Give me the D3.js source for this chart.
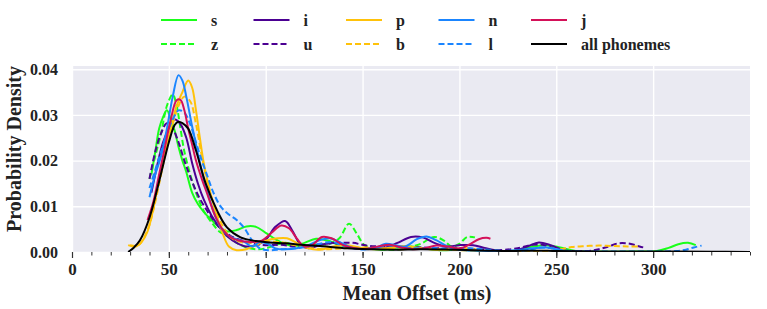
<!DOCTYPE html>
<html>
<head>
<meta charset="utf-8">
<script src="https://cdn.jsdelivr.net/npm/d3@7/dist/d3.min.js"></script>
<style>
  body { margin: 0; background: #fff; }
  text { font-family: "Liberation Serif", "Times New Roman", serif; font-weight: bold; fill: #222; }
</style>
</head>
<body>
<script>
// Size of the page
var width = 767;
var height = 309;

// Tick values
var xTicks = [0, 50, 100, 150, 200, 250, 300];
var yTicks = [0, 0.01, 0.02, 0.03, 0.04];

// Density curves, [mean offset ms, density]
var sData = [[41,0.017],[43,0.022],[45,0.027],[47,0.0295],[49,0.031],[51,0.029],[53,0.0265],[55,0.023],[57,0.02],[59,0.0175],[62,0.013],[65,0.0105],[68,0.0088],[72,0.007],[76,0.0055],[80,0.0045],[85,0.0048],[90,0.0056],[95,0.0055],[100,0.0042],[105,0.0028],[110,0.0017],[115,0.0014],[120,0.002],[126,0.0029],[132,0.0025],[138,0.0015],[145,0.001],[152,0.0008],[160,0.0005],[168,0.001],[175,0.0012],[182,0.0008],[190,0.0004],[200,0.0005],[210,0.0003],[220,0.0001],[230,0.0004],[238,0.0012],[245,0.0015],[252,0.001],[260,0.0002],[270,0.0001],[290,0.0001],[302,0.0002],[308,0.0009],[313,0.0017],[318,0.002],[322,0.0015]];
var zData = [[40,0.016],[43,0.021],[46,0.026],[49,0.032],[52,0.0345],[54,0.032],[56,0.027],[58,0.022],[61,0.017],[64,0.013],[68,0.009],[72,0.0065],[76,0.0045],[80,0.0035],[85,0.002],[90,0.001],[95,0.0006],[100,0.0008],[105,0.0015],[110,0.002],[115,0.0015],[120,0.0012],[127,0.0016],[133,0.0018],[138,0.003],[143,0.0062],[147,0.004],[151,0.0015],[156,0.0008],[165,0.0005],[172,0.0008],[180,0.0018],[187,0.0033],[192,0.0025],[196,0.0012],[200,0.0018],[204,0.0033],[208,0.0032]];
var iData = [[41,0.013],[44,0.019],[47,0.024],[50,0.027],[53,0.029],[56,0.028],[59,0.025],[62,0.0195],[65,0.015],[68,0.0115],[72,0.008],[76,0.0055],[80,0.0035],[85,0.002],[90,0.0012],[95,0.0015],[100,0.0027],[105,0.0055],[110,0.0068],[114,0.0045],[118,0.0015],[122,0.0008],[128,0.0015],[134,0.002],[140,0.0015],[148,0.0008],[155,0.0007],[162,0.001],[168,0.002],[175,0.0033],[181,0.0032],[187,0.002],[193,0.0012],[200,0.0015],[207,0.0015],[213,0.0009],[220,0.0003],[228,0.0002],[235,0.0012],[241,0.0021],[247,0.0015],[254,0.0004],[262,0.0001],[270,0.0001]];
var uData = [[40,0.016],[43,0.022],[46,0.026],[49,0.0282],[52,0.027],[55,0.024],[58,0.02],[61,0.0165],[65,0.0125],[69,0.0095],[73,0.007],[77,0.005],[82,0.0035],[88,0.0025],[94,0.0018],[100,0.0015],[108,0.0016],[115,0.0012],[122,0.0014],[130,0.0018],[138,0.002],[145,0.002],[152,0.0014],[160,0.0012],[170,0.0012],[180,0.001],[190,0.0008],[200,0.0008],[210,0.0006],[220,0.0004],[230,0.0008],[238,0.0016],[244,0.0015],[250,0.0006],[258,0.0002],[266,0.0002],[272,0.0006],[277,0.0012],[282,0.0019],[288,0.0018],[293,0.0012],[296,0.0009]];
var pData = [[29,0.0015],[33,0.0012],[36,0.0022],[39,0.0045],[42,0.0095],[45,0.016],[48,0.022],[51,0.027],[54,0.032],[57,0.035],[60,0.0375],[62,0.036],[64,0.031],[66,0.025],[68,0.0195],[70,0.0155],[72,0.012],[75,0.0075],[78,0.0038],[81,0.0012],[85,0.0004],[90,0.0006],[95,0.0015],[100,0.0025],[106,0.003],[111,0.003],[116,0.002],[122,0.0008],[128,0.0005],[135,0.0012],[142,0.0015],[150,0.0008],[158,0.0006],[165,0.001],[172,0.0013],[180,0.0008],[188,0.0005],[195,0.0006],[203,0.0008],[210,0.0004]];
var bData = [[30,0.0015],[34,0.0014],[37,0.003],[40,0.006],[43,0.011],[46,0.017],[49,0.023],[52,0.028],[55,0.032],[58,0.034],[61,0.033],[64,0.028],[67,0.021],[70,0.015],[74,0.0095],[78,0.0055],[82,0.0032],[87,0.0022],[93,0.002],[100,0.0022],[107,0.0022],[114,0.0016],[121,0.001],[130,0.0006],[140,0.0008],[150,0.001],[160,0.0008],[170,0.0006],[180,0.0008],[190,0.0006],[200,0.0004],[210,0.0002],[220,0.0001],[235,0.0001],[245,0.0002],[252,0.0006],[258,0.0011],[265,0.0013],[272,0.0014],[280,0.0013],[287,0.0012],[293,0.0012]];
var nData = [[40,0.012],[43,0.017],[46,0.021],[49,0.027],[52,0.034],[55,0.0387],[57,0.0375],[59,0.034],[62,0.0275],[65,0.0215],[68,0.016],[71,0.0115],[74,0.0078],[77,0.0052],[81,0.0035],[85,0.0028],[89,0.0022],[93,0.0012],[97,0.0022],[101,0.0018],[105,0.0008],[110,0.0006],[116,0.0008],[122,0.0015],[128,0.0026],[133,0.003],[138,0.0022],[144,0.001],[150,0.0006],[156,0.0008],[162,0.0018],[167,0.0015],[172,0.0012],[178,0.0028],[183,0.0034],[188,0.0026],[194,0.0012],[200,0.0005],[210,0.0003],[220,0.0002],[230,0.0004],[238,0.0008],[245,0.001],[252,0.0004],[258,0.0001]];
var lData = [[40,0.014],[43,0.018],[46,0.022],[49,0.026],[52,0.029],[55,0.031],[58,0.0305],[61,0.028],[64,0.024],[67,0.02],[70,0.0165],[73,0.013],[77,0.0098],[81,0.0082],[85,0.007],[89,0.0052],[93,0.0025],[97,0.0008],[102,0.0004],[108,0.0006],[115,0.0008],[122,0.0012],[128,0.0018],[134,0.0022],[140,0.0014],[148,0.0006],[156,0.0008],[163,0.0015],[170,0.001],[178,0.0008],[186,0.0009],[195,0.0006],[205,0.0008],[215,0.0005],[225,0.0002],[235,0.0004],[242,0.001],[248,0.0008],[255,0.0003],[265,0.0001],[280,0.0001],[300,0.0001],[312,0.0002],[317,0.0005],[321,0.001],[325,0.0014]];
var jData = [[39,0.007],[42,0.011],[45,0.017],[48,0.023],[51,0.029],[54,0.0332],[56,0.0333],[58,0.031],[60,0.027],[62,0.0235],[64,0.02],[67,0.016],[70,0.0125],[74,0.0078],[78,0.0048],[82,0.0032],[86,0.0025],[92,0.0022],[98,0.0025],[103,0.0042],[108,0.0058],[112,0.0052],[116,0.003],[120,0.0012],[124,0.0015],[129,0.0033],[134,0.003],[140,0.0015],[146,0.0008],[152,0.0007],[158,0.0012],[164,0.0016],[170,0.001],[176,0.0006],[182,0.0008],[188,0.0014],[194,0.0012],[200,0.0008],[205,0.0016],[210,0.0028],[214,0.0031],[216,0.0029]];
var allData = [[29,0],[32,0.001],[35,0.0025],[40,0.0075],[45,0.0155],[50,0.024],[53,0.0278],[55,0.0285],[57,0.0282],[60,0.027],[64,0.0222],[69,0.015],[75,0.009],[80,0.0054],[87,0.0032],[95,0.0024],[102,0.0021],[110,0.0019],[118,0.0016],[128,0.0013],[142,0.0008],[155,0.0006],[167,0.0005],[180,0.0006],[198,0.0005],[215,0.0003],[225,0.0002],[240,0.0003],[250,0.0002],[270,0.0001],[300,0.0001],[330,0.00005],[350,0.00002]];

// Series names and colours, in legend order (column by column)
var names = ["s", "z", "i", "u", "p", "b", "n", "l", "j", "all phonemes"];
var colors = ["#1aff1a", "#1aff1a", "#4b0092", "#4b0092", "#ffc20a", "#ffc20a", "#1a85ff", "#1a85ff", "#d41159", "#000000"];
var dashed = [false, true, false, true, false, true, false, true, false, false];
var datas = [sData, zData, iData, uData, pData, bData, nData, lData, jData, allData];

var plot = {left: 72, right: 750, top: 66, bottom: 252};

var x = d3.scaleLinear()
    .domain([0, 350])
    .range([plot.left, plot.right]);

var y = d3.scaleLinear()
    .domain([0, 0.0407])
    .range([plot.bottom, plot.top]);

var svg = d3.select("body")
    .append("svg")
    .attr("width", width)
    .attr("height", height);

// Plot background
svg.append("rect")
    .attr("x", plot.left)
    .attr("y", plot.top)
    .attr("width", plot.right - plot.left)
    .attr("height", plot.bottom - plot.top)
    .attr("fill", "#eaeaf2");

svg.append("clipPath")
    .attr("id", "clip")
  .append("rect")
    .attr("x", plot.left)
    .attr("y", plot.top)
    .attr("width", plot.right - plot.left)
    .attr("height", plot.bottom - plot.top);

// Grid
svg.append("g")
    .attr("transform", "translate(0," + plot.bottom + ")")
    .call(d3.axisBottom(x).tickValues(xTicks).tickSize(-(plot.bottom - plot.top)).tickFormat(""))
    .call(function(g) {
        g.select(".domain").remove();
        g.selectAll("line").attr("stroke", "#fff").attr("stroke-width", 1.4);
    });

svg.append("g")
    .attr("transform", "translate(" + plot.left + ",0)")
    .call(d3.axisLeft(y).tickValues(yTicks).tickSize(-(plot.right - plot.left)).tickFormat(""))
    .call(function(g) {
        g.select(".domain").remove();
        g.selectAll("line").attr("stroke", "#fff").attr("stroke-width", 1.4);
    });

// Curves
var line = d3.line()
    .x(function(d) { return x(d[0]); })
    .y(function(d) { return y(d[1]); })
    .curve(d3.curveCatmullRom.alpha(0.5));

var curves = svg.append("g").attr("clip-path", "url(#clip)");
datas.forEach(function(data, i) {
    curves.append("path")
        .datum(data)
        .attr("d", line)
        .attr("fill", "none")
        .attr("stroke", colors[i])
        .attr("stroke-width", 2)
        .attr("stroke-linejoin", "round")
        .attr("stroke-dasharray", dashed[i] ? "6,3" : null);
});

// X axis with minor ticks
var minor = d3.range(0, 351, 10);
svg.append("g")
    .attr("transform", "translate(0," + plot.bottom + ")")
    .call(d3.axisBottom(x).tickValues(minor).tickSize(3.5).tickFormat(""))
    .call(function(g) {
        g.select(".domain").remove();
        g.selectAll("line").attr("stroke", "#333").attr("stroke-width", 1);
    });

svg.append("g")
    .attr("transform", "translate(0," + plot.bottom + ")")
    .call(d3.axisBottom(x).tickValues(xTicks).tickSize(6).tickPadding(5))
    .call(function(g) {
        g.select(".domain").remove();
        g.selectAll("line").attr("stroke", "#333").attr("stroke-width", 1.2);
        g.selectAll("text").attr("font-size", 17).attr("font-family", null);
    });

// Y axis labels
svg.append("g")
    .attr("transform", "translate(" + plot.left + ",0)")
    .call(d3.axisLeft(y).tickValues(yTicks).tickSize(0).tickPadding(14).tickFormat(d3.format(".2f")))
    .call(function(g) {
        g.select(".domain").remove();
        g.selectAll("text").attr("font-size", 16).attr("font-family", null);
    });

// Axis titles
svg.append("text")
    .attr("x", 417)
    .attr("y", 300)
    .attr("text-anchor", "middle")
    .attr("font-size", 20)
    .text("Mean Offset (ms)");

svg.append("text")
    .attr("transform", "translate(21," + 149 + ") rotate(-90)")
    .attr("text-anchor", "middle")
    .attr("font-size", 20)
    .text("Probability Density");

// Legend: 5 columns, 2 rows
var legend = svg.append("g").attr("class", "legend");
names.forEach(function(name, i) {
    var col = Math.floor(i / 2);
    var row = i % 2;
    var lx = 161 + col * 92.5;
    var ly = 25 + row * 24;
    legend.append("line")
        .attr("x1", lx)
        .attr("x2", lx + 36)
        .attr("y1", ly - 5)
        .attr("y2", ly - 5)
        .attr("stroke", colors[i])
        .attr("stroke-width", 2)
        .attr("stroke-dasharray", dashed[i] ? "6,3" : null);
    legend.append("text")
        .attr("x", lx + 50)
        .attr("y", ly + 1)
        .attr("font-size", 16)
        .text(name);
});
</script>
</body>
</html>
